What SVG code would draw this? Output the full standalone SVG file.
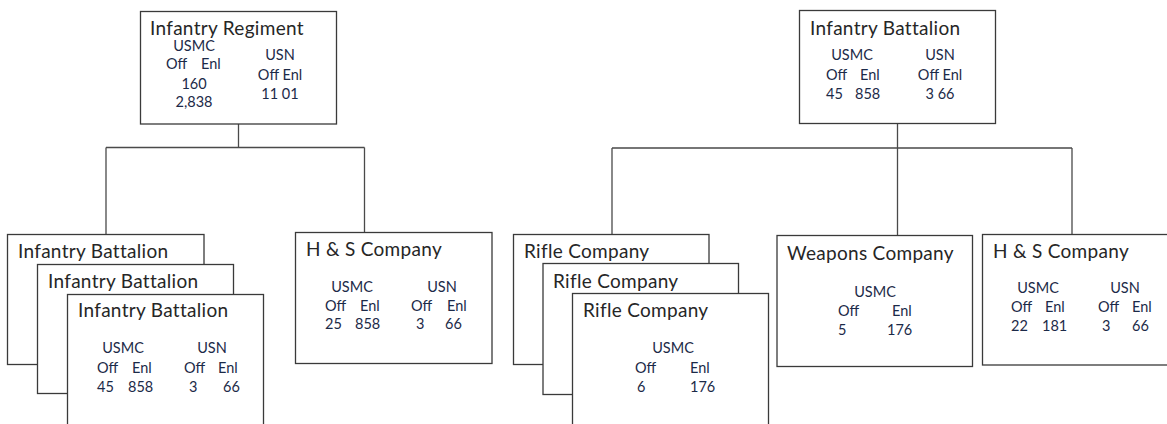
<svg xmlns="http://www.w3.org/2000/svg" width="1167" height="424" viewBox="0 0 1167 424">
  <style>
    .box { fill: #ffffff; stroke: #3a3a3a; stroke-width: 1.3; }
    .link { fill: none; stroke: #4a4a4a; stroke-width: 1.3; }
    .title { font-family: Lato, "Liberation Sans", sans-serif; font-size: 19px; letter-spacing: 0.3px; fill: #262626; }
    .data { font-family: Lato, "Liberation Sans", sans-serif; font-size: 14.5px; fill: #1c2a48; }
    .mid { text-anchor: middle; }
  </style>
  <rect width="1167" height="424" fill="#ffffff"/>

  <!-- tree connectors -->
  <g id="connectors">
    <path class="link" d="M238.5,124 V147.5 M106,147.5 H364.5 M106,147.5 V234 M364.5,147.5 V232"/>
    <path class="link" d="M897.5,123 V235 M612,148 H1072 M612,148 V234 M1072,148 V234"/>
  </g>

  <!-- regiment headquarters -->
  <g id="infantry-regiment">
    <rect class="box" x="140.5" y="11.5" width="196" height="112.5"/>
    <text class="title" x="150" y="35">Infantry Regiment</text>
    <text class="data mid" x="194" y="51">USMC</text>
    <text class="data" x="166" y="69">Off</text>
    <text class="data" x="201" y="69">Enl</text>
    <text class="data mid" x="194" y="89">160</text>
    <text class="data mid" x="194" y="107">2,838</text>
    <text class="data mid" x="280" y="60">USN</text>
    <text class="data mid" x="280" y="80">Off Enl</text>
    <text class="data mid" x="280" y="99">11 01</text>
  </g>

  <!-- battalion headquarters -->
  <g id="infantry-battalion-top">
    <rect class="box" x="799.5" y="10.5" width="196" height="113"/>
    <text class="title" x="810" y="35">Infantry Battalion</text>
    <text class="data mid" x="852" y="60">USMC</text>
    <text class="data" x="826" y="80">Off</text>
    <text class="data" x="860" y="80">Enl</text>
    <text class="data" x="826" y="99">45</text>
    <text class="data" x="855" y="99">858</text>
    <text class="data mid" x="940" y="60">USN</text>
    <text class="data mid" x="940" y="80">Off Enl</text>
    <text class="data mid" x="940" y="99">3 66</text>
  </g>

  <!-- stacked battalions -->
  <g id="infantry-battalion-1">
    <rect class="box" x="7.5" y="234.5" width="196.5" height="130"/>
    <text class="title" x="18" y="258">Infantry Battalion</text>
  </g>
  <g id="infantry-battalion-2">
    <rect class="box" x="37.5" y="264.5" width="196" height="129"/>
    <text class="title" x="48" y="288">Infantry Battalion</text>
  </g>
  <g id="infantry-battalion-3">
    <rect class="box" x="67.5" y="294.5" width="196" height="135"/>
    <text class="title" x="78" y="317">Infantry Battalion</text>
    <text class="data mid" x="123" y="353">USMC</text>
    <text class="data" x="97" y="373">Off</text>
    <text class="data" x="132" y="373">Enl</text>
    <text class="data" x="97" y="392">45</text>
    <text class="data" x="128" y="392">858</text>
    <text class="data mid" x="212" y="353">USN</text>
    <text class="data" x="184" y="373">Off</text>
    <text class="data" x="218" y="373">Enl</text>
    <text class="data" x="189" y="392">3</text>
    <text class="data" x="223" y="392">66</text>
  </g>

  <!-- regimental H&S company -->
  <g id="hs-company-regiment">
    <rect class="box" x="295.5" y="232.5" width="196.5" height="131"/>
    <text class="title" x="306" y="256">H &amp; S Company</text>
    <text class="data mid" x="352" y="292">USMC</text>
    <text class="data" x="325" y="311">Off</text>
    <text class="data" x="360" y="311">Enl</text>
    <text class="data" x="325" y="329">25</text>
    <text class="data" x="355" y="329">858</text>
    <text class="data mid" x="442" y="292">USN</text>
    <text class="data" x="411" y="311">Off</text>
    <text class="data" x="447" y="311">Enl</text>
    <text class="data" x="416" y="329">3</text>
    <text class="data" x="445" y="329">66</text>
  </g>

  <!-- stacked rifle companies -->
  <g id="rifle-company-1">
    <rect class="box" x="513.5" y="234.5" width="195.5" height="130"/>
    <text class="title" x="524" y="258">Rifle Company</text>
  </g>
  <g id="rifle-company-2">
    <rect class="box" x="543" y="263.5" width="195.5" height="131"/>
    <text class="title" x="553" y="288">Rifle Company</text>
  </g>
  <g id="rifle-company-3">
    <rect class="box" x="572.5" y="293.5" width="196" height="136"/>
    <text class="title" x="583" y="317">Rifle Company</text>
    <text class="data mid" x="673" y="353">USMC</text>
    <text class="data" x="635" y="373">Off</text>
    <text class="data" x="690" y="373">Enl</text>
    <text class="data" x="637" y="392">6</text>
    <text class="data" x="690" y="392">176</text>
  </g>

  <!-- weapons company -->
  <g id="weapons-company">
    <rect class="box" x="777" y="235.5" width="195.5" height="131"/>
    <text class="title" x="787" y="260">Weapons Company</text>
    <text class="data mid" x="875" y="297">USMC</text>
    <text class="data" x="838" y="316">Off</text>
    <text class="data" x="892" y="316">Enl</text>
    <text class="data" x="838" y="335">5</text>
    <text class="data" x="887" y="335">176</text>
  </g>

  <!-- battalion H&S company -->
  <g id="hs-company-battalion">
    <rect class="box" x="982.5" y="234.5" width="196" height="130.5"/>
    <text class="title" x="993" y="258">H &amp; S Company</text>
    <text class="data mid" x="1038" y="293">USMC</text>
    <text class="data" x="1011" y="312">Off</text>
    <text class="data" x="1045" y="312">Enl</text>
    <text class="data" x="1011" y="331">22</text>
    <text class="data" x="1042" y="331">181</text>
    <text class="data mid" x="1125" y="293">USN</text>
    <text class="data" x="1098" y="312">Off</text>
    <text class="data" x="1132" y="312">Enl</text>
    <text class="data" x="1102" y="331">3</text>
    <text class="data" x="1132" y="331">66</text>
  </g>
</svg>
